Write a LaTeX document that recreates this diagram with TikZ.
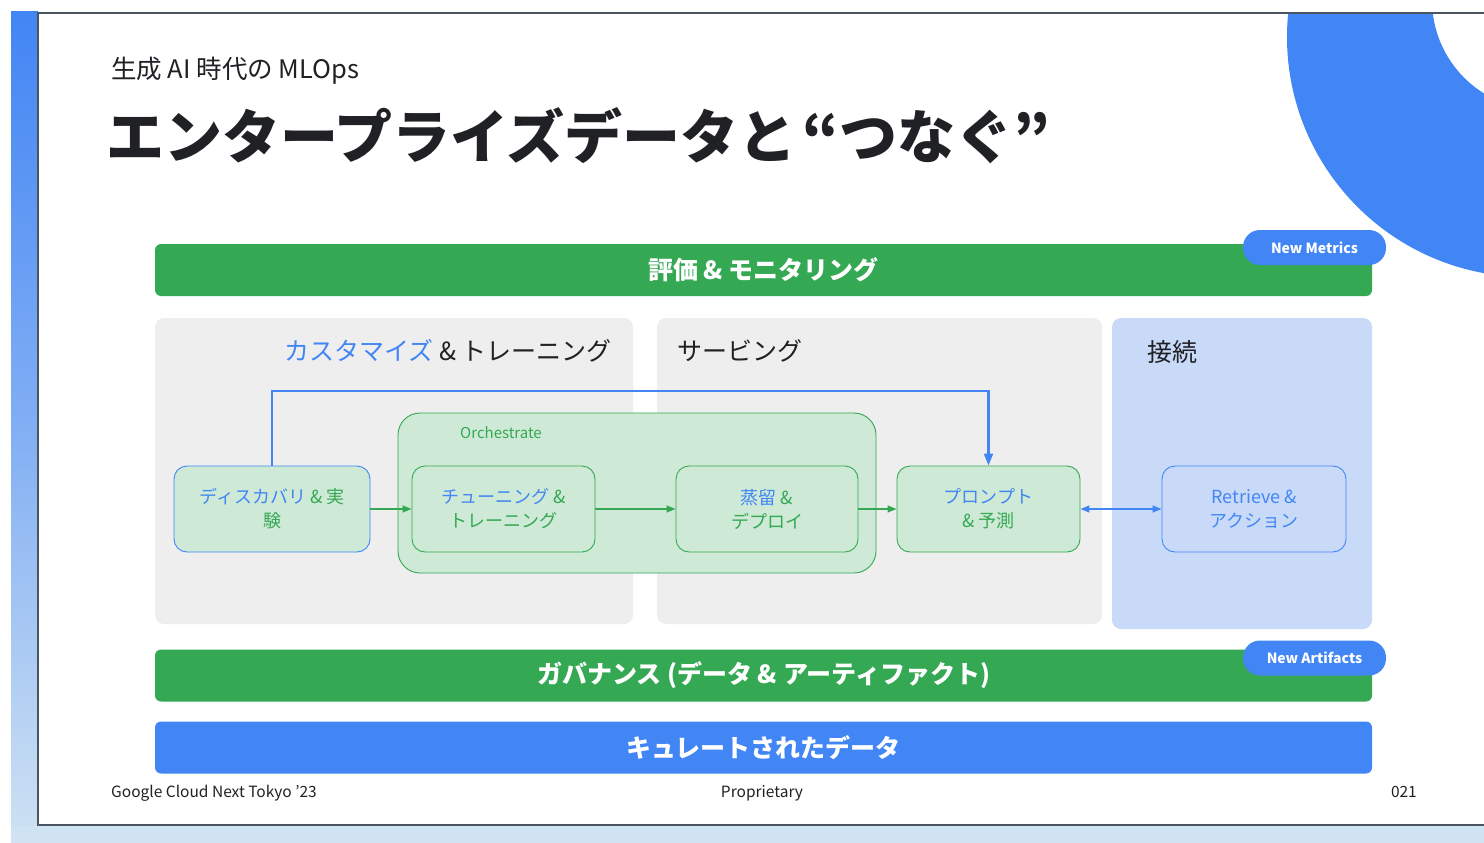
\documentclass[tikz,border=0pt]{standalone}
\usepackage{fontspec}
\setmainfont{Noto Sans CJK JP}
\usetikzlibrary{arrows.meta}
\definecolor{gblue}{HTML}{4285F4}
\definecolor{ggreen}{HTML}{34A853}
\definecolor{lgreen}{HTML}{CEEAD6}
\definecolor{lgray}{HTML}{EEEEEE}
\definecolor{lblue}{HTML}{C9DAF8}
\definecolor{ink}{HTML}{202124}
\definecolor{framec}{HTML}{4A5560}
\definecolor{stripend}{HTML}{CFE2F3}
\definecolor{bandc}{HTML}{D0E3F3}
\begin{document}
\begin{tikzpicture}[x=1pt,y=-1pt,
  panel/.style={rounded corners=9pt, fill=lgray, inner sep=0},
  bar/.style={rounded corners=6pt, fill=ggreen, inner sep=0, minimum width=1217pt, minimum height=52pt, text=white, font=\fontsize{25}{30}\selectfont\bfseries},
  badge/.style={rounded corners=17pt, fill=gblue, inner sep=0, minimum width=143pt, minimum height=35pt, text=white, font=\fontsize{14}{16}\selectfont\bfseries},
  card/.style={rounded corners=13pt, fill=lgreen, draw=ggreen, line width=0.9pt, minimum width=183pt, minimum height=86pt, inner sep=0, align=center, text=ggreen, font=\fontsize{18}{24}\selectfont},
  heading/.style={anchor=base west, inner sep=0, text=ink, font=\fontsize{25}{30}\selectfont},
  garrow/.style={draw=ggreen, line width=1.4pt, -{Triangle[length=9pt,width=7pt]}},
  barrow/.style={draw=gblue, line width=1.4pt, {Triangle[length=9pt,width=7pt]}-{Triangle[length=9pt,width=7pt]}},
  bline/.style={draw=gblue, line width=2.2pt, -{Triangle[length=12pt,width=9pt]}},
  foot/.style={inner sep=0, text=ink, font=\fontsize{15.5}{18}\selectfont}
]
\useasboundingbox (0,0) rectangle (1484,843);
\fill[white] (0,0) rectangle (1484,843);
% left strip and bottom band
\shade[top color=gblue, bottom color=stripend, middle color=gblue!55!stripend] (11,12) rectangle (38,843);
\fill[bandc] (11,826) rectangle (1484,843);
% decorative ring
\begin{scope}
  \clip (39,14) rectangle (1484,824);
  \fill[gblue, even odd rule] (1527,37) circle[radius=240pt] (1542,0) circle[radius=110pt];
\end{scope}
% slide frame
\draw[framec, line width=2.5pt] (1484,13) -- (38,13) -- (38,825) -- (1484,825);

% titles
\node[anchor=base west, inner sep=0, text=ink, font=\fontsize{25.5}{30}\selectfont] (sub) at (111,79) {生成 AI 時代の MLOps};
\node[anchor=base west, inner sep=0, text=ink, font=\fontsize{58}{62}\selectfont\bfseries] (title) at (106,158) {エンタープライズデータと\hspace{6pt}“つなぐ”};

% top bar
\node[bar] (eval) at (763.5,270) {評価 \& モニタリング};
\node[badge] (nm) at (1314.5,247.5) {New Metrics};

% panels
\node[panel, minimum width=478pt, minimum height=306pt] (p1) at (394,471) {};
\node[panel, minimum width=445pt, minimum height=306pt] (p2) at (879.5,471) {};
\node[panel, fill=lblue, minimum width=260pt, minimum height=311pt] (p3) at (1242,473.5) {};
\node[heading] (h1) at (284,360) {{\color{gblue}カスタマイズ} \& トレーニング};
\node[heading] (h2) at (677,360) {サービング};
\node[heading] (h3) at (1147,361) {接続};

% orchestrate
\node[rounded corners=22pt, fill=lgreen, draw=ggreen, line width=0.9pt, minimum width=478pt, minimum height=160pt, inner sep=0] (orch) at (637,493) {};
\node[inner sep=0, text=ggreen, font=\fontsize{15}{18}\selectfont] (orchl) at (501,433) {Orchestrate};

% cards
\node[card, draw=gblue, minimum width=196pt] (disc) at (272,509) {{\color{gblue}ディスカバリ} \& 実\\験};
\node[card] (tune) at (503.5,509) {{\color{gblue}チューニング} \&\\トレーニング};
\node[card, minimum width=182pt] (dist) at (767,509) {{\color{gblue}蒸留} \&\\デプロイ};
\node[card] (prompt) at (988.5,509) {{\color{gblue}プロンプト}\\\& 予測};
\node[card, fill=none, draw=gblue, text=gblue, minimum width=184pt] (retr) at (1254,509) {Retrieve \&\\アクション};

% connectors
\draw[garrow] (disc.east) -- (tune.west);
\draw[garrow] (tune.east) -- (dist.west);
\draw[garrow] (dist.east) -- (prompt.west);
\draw[barrow] (prompt.east) -- (retr.west);
\coordinate (topc) at (600,391);
\draw[bline] (disc.north) |- (topc) -| (prompt.north);

% lower bars
\node[bar] (gov) at (763.5,675.5) {ガバナンス (データ \& アーティファクト)};
\node[badge] (na) at (1314.5,658) {New Artifacts};
\node[bar, fill=gblue] (data) at (763.5,747.5) {キュレートされたデータ};

% footer
\node[foot, anchor=base west] (f1) at (111,797) {Google Cloud Next Tokyo '23};
\node[foot, anchor=base] (f2) at (762,797) {Proprietary};
\node[foot, anchor=base east] (f3) at (1417,797) {021};
\end{tikzpicture}
\end{document}
